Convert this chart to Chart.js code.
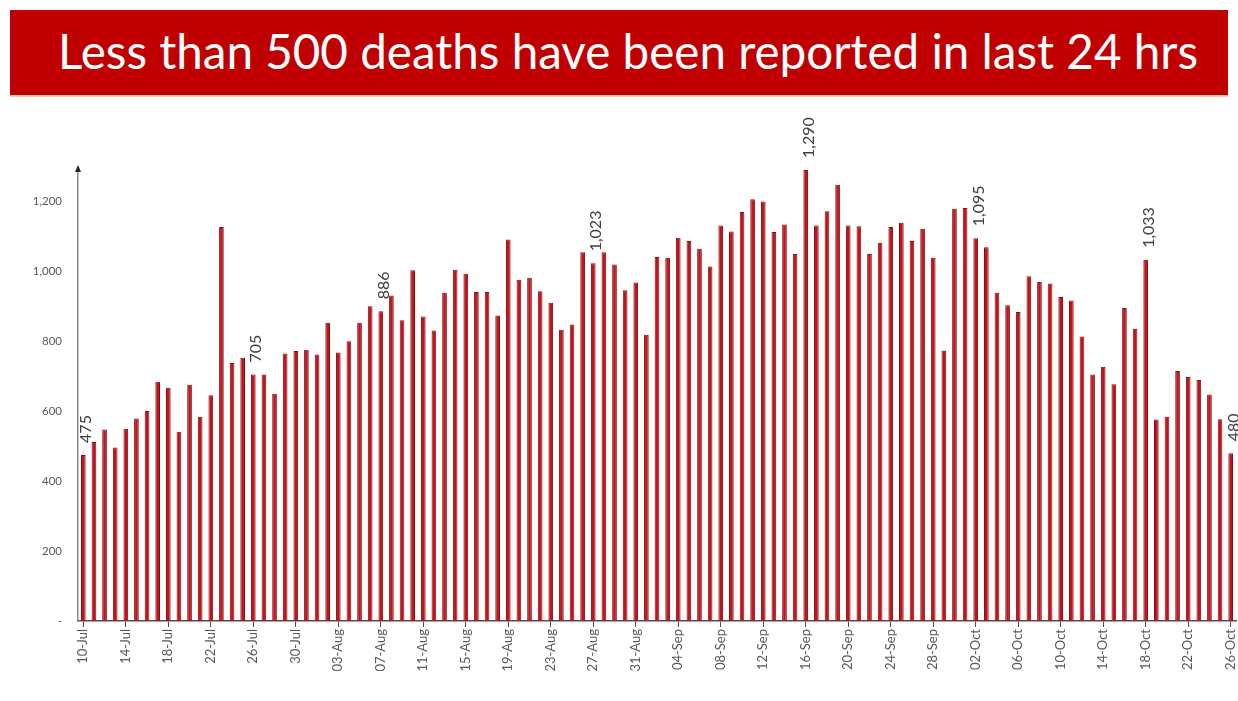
<!DOCTYPE html>
<html>
<head>
<meta charset="utf-8">
<script src="https://cdn.jsdelivr.net/npm/chart.js@4.4.1/dist/chart.umd.min.js"></script>
<style>
  html, body { margin: 0; padding: 0; background: #fff; }
  body { width: 1238px; height: 701px; position: relative; overflow: hidden; font-family: Lato, 'Open Sans', sans-serif; }
  #banner { position: absolute; left: 10px; top: 10px; width: 1218px; height: 85px; background: #C00000; }
  #banner span { position: absolute; left: 48px; top: 17px; color: #fff; white-space: nowrap; font-size: 44px; line-height: 1; }
  #rule { position: absolute; left: 10px; top: 95px; width: 1218px; height: 2px; background: #F4C9AE; }
  #wrap { position: absolute; left: 0; top: 100px; width: 1238px; height: 601px; }
</style>
</head>
<body>
<div id="banner"><span id="title">Less than 500 deaths have been reported in last 24 hrs</span></div>
<div id="rule"></div>
<div id="wrap"><canvas id="chart" width="1238" height="601"></canvas></div>
<script>
    // ── categories (one per day) ──
    var daysJul = ['10-Jul','11-Jul','12-Jul','13-Jul','14-Jul','15-Jul','16-Jul','17-Jul','18-Jul','19-Jul','20-Jul',
                   '21-Jul','22-Jul','23-Jul','24-Jul','25-Jul','26-Jul','27-Jul','28-Jul','29-Jul','30-Jul','31-Jul'];
    var daysAug = ['01-Aug','02-Aug','03-Aug','04-Aug','05-Aug','06-Aug','07-Aug','08-Aug','09-Aug','10-Aug',
                   '11-Aug','12-Aug','13-Aug','14-Aug','15-Aug','16-Aug','17-Aug','18-Aug','19-Aug','20-Aug',
                   '21-Aug','22-Aug','23-Aug','24-Aug','25-Aug','26-Aug','27-Aug','28-Aug','29-Aug','30-Aug','31-Aug'];
    var daysSep = ['01-Sep','02-Sep','03-Sep','04-Sep','05-Sep','06-Sep','07-Sep','08-Sep','09-Sep','10-Sep',
                   '11-Sep','12-Sep','13-Sep','14-Sep','15-Sep','16-Sep','17-Sep','18-Sep','19-Sep','20-Sep',
                   '21-Sep','22-Sep','23-Sep','24-Sep','25-Sep','26-Sep','27-Sep','28-Sep','29-Sep','30-Sep'];
    var daysOct = ['01-Oct','02-Oct','03-Oct','04-Oct','05-Oct','06-Oct','07-Oct','08-Oct','09-Oct','10-Oct',
                   '11-Oct','12-Oct','13-Oct','14-Oct','15-Oct','16-Oct','17-Oct','18-Oct','19-Oct','20-Oct',
                   '21-Oct','22-Oct','23-Oct','24-Oct','25-Oct','26-Oct'];

    // ── daily deaths ──
    var deathsJul = [475, 512, 548, 496, 550, 579, 601, 684, 667, 541, 676,
                     584, 646, 1127, 738, 753, 705, 705, 650, 765, 772, 776];
    var deathsAug = [762, 853, 768, 800, 853, 900, 886, 931, 860, 1003,
                     871, 831, 939, 1005, 993, 941, 941, 874, 1091, 976,
                     982, 943, 910, 833, 848, 1055, 1023, 1055, 1020, 946, 968];
    var deathsSep = [819, 1041, 1039, 1096, 1087, 1065, 1014, 1131, 1114, 1170,
                     1206, 1200, 1113, 1134, 1050, 1290, 1131, 1172, 1248, 1131,
                     1129, 1050, 1082, 1127, 1139, 1087, 1122, 1039, 774, 1179];
    var deathsOct = [1181, 1095, 1069, 939, 903, 884, 986, 970, 965, 927,
                     917, 814, 705, 727, 677, 895, 836, 1033, 576, 584,
                     715, 698, 689, 648, 577, 480];

    // bars that carry a value label
    var calloutDays = ['10-Jul', '26-Jul', '07-Aug', '27-Aug', '16-Sep', '02-Oct', '18-Oct', '26-Oct'];

    var yTicks = [0, 200, 400, 600, 800, 1000, 1200];

    var dayLabels = daysJul.concat(daysAug, daysSep, daysOct);
    var deaths = deathsJul.concat(deathsAug, deathsSep, deathsOct);

    var FONT = "Lato, 'Open Sans', sans-serif";

    // ═══════════════════════════════════════════════════════════
    //  Title: stretch to the banner's text width
    // ═══════════════════════════════════════════════════════════
    function fitTitle() {
        var t = document.getElementById('title');
        var w = t.offsetWidth;
        if (w > 0) t.style.fontSize = (44 * 1140 / w).toFixed(2) + 'px';
    }

    // ═══════════════════════════════════════════════════════════
    //  Plugins
    // ═══════════════════════════════════════════════════════════
    var calloutPlugin = {
        id: 'callouts',
        afterDatasetsDraw: function (chart) {
            var meta = chart.getDatasetMeta(0);
            var ctx = chart.ctx;
            ctx.save();
            ctx.font = '16px ' + FONT;
            ctx.fillStyle = '#404040';
            ctx.textAlign = 'left';
            ctx.textBaseline = 'middle';
            for (var k = 0; k < calloutDays.length; k++) {
                var i = dayLabels.indexOf(calloutDays[k]);
                var bar = meta.data[i];
                if (!bar) continue;
                ctx.save();
                ctx.translate(bar.x + 3, bar.y - 12);
                ctx.rotate(-Math.PI / 2);
                ctx.fillText(deaths[i].toLocaleString('en-US'), 0, 0);
                ctx.restore();
            }
            ctx.restore();
        }
    };

    var arrowPlugin = {
        id: 'yArrow',
        afterDraw: function (chart) {
            var a = chart.chartArea;
            var ctx = chart.ctx;
            ctx.save();
            ctx.fillStyle = '#222';
            ctx.beginPath();
            ctx.moveTo(a.left, a.top - 5);
            ctx.lineTo(a.left - 3, a.top + 2);
            ctx.lineTo(a.left + 3, a.top + 2);
            ctx.closePath();
            ctx.fill();
            ctx.restore();
        }
    };

    // ═══════════════════════════════════════════════════════════
    //  Chart
    // ═══════════════════════════════════════════════════════════
    function drawChart() {
        new Chart(document.getElementById('chart').getContext('2d'), {
            type: 'bar',
            data: {
                labels: dayLabels,
                datasets: [{
                    data: deaths,
                    backgroundColor: '#C4141B',
                    borderColor: '#861012',
                    borderWidth: 1,
                    barPercentage: 0.44,
                    categoryPercentage: 1
                }]
            },
            options: {
                responsive: false,
                animation: false,
                layout: { padding: { top: 70, right: 2, left: 0, bottom: 0 } },
                plugins: { legend: { display: false }, tooltip: { enabled: false } },
                scales: {
                    x: {
                        grid: {
                            display: true,
                            drawOnChartArea: false,
                            offset: false,
                            tickLength: 6,
                            color: function (c) { return c.index % 4 === 0 ? '#505050' : 'rgba(0,0,0,0)'; }
                        },
                        border: { display: true, color: '#505050', width: 1.5 },
                        ticks: {
                            autoSkip: false,
                            maxRotation: 90,
                            minRotation: 90,
                            padding: 2,
                            color: '#595959',
                            font: { family: FONT, size: 13 },
                            callback: function (v, i) { return i % 4 === 0 ? this.getLabelForValue(v) : ''; }
                        },
                        afterFit: function (scale) {
                            scale.height = 80;
                            scale.paddingLeft = 0;
                            scale.paddingRight = 0;
                        }
                    },
                    y: {
                        min: 0,
                        max: 1290,
                        grid: { display: false, drawTicks: false },
                        border: { display: true, color: '#8a8a8a', width: 1.5 },
                        ticks: {
                            padding: 16,
                            color: '#595959',
                            font: { family: FONT, size: 11.5 },
                            callback: function (v) { return v === 0 ? '-' : v.toLocaleString('en-US'); }
                        },
                        afterBuildTicks: function (scale) {
                            scale.ticks = yTicks.map(function (v) { return { value: v }; });
                        },
                        afterFit: function (scale) {
                            scale.width = 78;
                            scale.paddingTop = 0;
                            scale.paddingBottom = 0;
                        }
                    }
                }
            },
            plugins: [calloutPlugin, arrowPlugin]
        });
    }

    fitTitle();
    drawChart();
</script>
</body>
</html>
